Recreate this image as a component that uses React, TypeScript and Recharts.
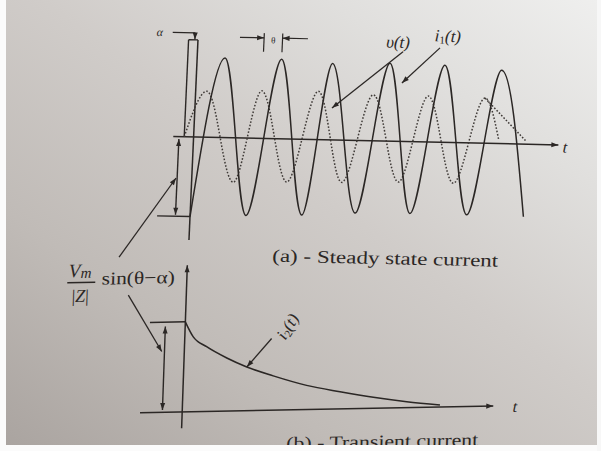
import React from 'react';
import { LineChart, Line, XAxis, YAxis, ReferenceLine, ReferenceDot } from 'recharts';

// Phase angle ωt in degrees; currents and voltage in per-unit of the steady-state peak current.
// Steady-state current i1(t): turning points of the waveform.
const I1_ANGLE = [0, 181, 363, 549, 725, 881, 1071, 1254, 1427, 1611, 1796, 1981, 2165];
const I1_VALUE = [-1.02, 1.02, -0.99, 1.02, -0.97, 0.98, -0.93, 1.0, -0.92, 0.99, -0.92, 0.94, -0.93];

// Source voltage v(t) (dotted), starting at ωt = -α.
const V_ANGLE = [-61, 72, 271, 429, 618, 797, 975, 1155, 1343, 1512, 1700, 1881, 1982];
const V_VALUE = [0, 0.59, -0.57, 0.61, -0.55, 0.62, -0.54, 0.59, -0.52, 0.59, -0.52, 0.58, 0.05];

// Stray dotted stroke leaving the last voltage crest.
const V_TAIL_ANGLE = [1881, 2165];
const V_TAIL_VALUE = [0.58, 0.03];

// Transient current i2(t): decaying offset.
const I2_ANGLE = [0, 55, 144, 278, 410, 584, 803, 1022, 1240, 1458, 1675];
const I2_VALUE = [1.155, 0.96, 0.83, 0.68, 0.56, 0.44, 0.31, 0.22, 0.14, 0.076, 0.026];

const CAPTION_A = '(a) - Steady state current';
const CAPTION_B = '(b) - Transient current';

const rows = (xs: number[], ys: number[]) => xs.map((t, i) => ({ t, y: ys[i] }));

const INK = '#2b2725';
const FONT = "'Liberation Serif', 'DejaVu Serif', serif";

type Heads = 'none' | 'end' | 'both';

function arrowLine(heads: Heads, width = 1.4, size = 7) {
  return (p: any) => {
    const { x1, y1, x2, y2 } = p;
    const head = (xa: number, ya: number, xb: number, yb: number, k: string) => {
      const a = Math.atan2(yb - ya, xb - xa);
      const w = size * 0.36;
      const bx = xb - size * Math.cos(a);
      const by = yb - size * Math.sin(a);
      const pts = `${xb},${yb} ${bx - w * Math.sin(a)},${by + w * Math.cos(a)} ${bx + w * Math.sin(a)},${by - w * Math.cos(a)}`;
      return <polygon key={k} points={pts} fill={INK} />;
    };
    return (
      <g>
        <line x1={x1} y1={y1} x2={x2} y2={y2} stroke={INK} strokeWidth={width} />
        {heads !== 'none' && head(x1, y1, x2, y2, 'e')}
        {heads === 'both' && head(x2, y2, x1, y1, 's')}
      </g>
    );
  };
}

const seg = (xa: number, ya: number, xb: number, yb: number, heads: Heads = 'none', width = 1.4) => (
  <ReferenceLine
    segment={[{ x: xa, y: ya }, { x: xb, y: yb }]}
    ifOverflow="visible"
    shape={arrowLine(heads, width)}
  />
);

const note = (x: number, y: number, draw: (cx: number, cy: number) => React.ReactElement) => (
  <ReferenceDot x={x} y={y} r={1} ifOverflow="visible" shape={(p: any) => draw(p.cx, p.cy)} />
);

const italic = { fontFamily: FONT, fontStyle: 'italic' as const, fill: INK };
const roman = { fontFamily: FONT, fill: INK };

function SteadyState() {
  const thetaLeft = V_ANGLE[3];
  const thetaRight = I1_ANGLE[3];
  return (
    <LineChart width={601} height={300} margin={{ top: 12.2, right: 22.8, bottom: 22.6, left: 101.3 }}>
      <XAxis type="number" dataKey="t" domain={[-600, 2500]} allowDataOverflow hide />
      <YAxis type="number" domain={[-1.8, 1.6]} allowDataOverflow hide />

      {/* axes */}
      {seg(-132, 0, 2371, 0, 'end', 1.5)}
      {seg(0, -1.32, 0, 1.245, 'none', 1.5)}
      {note(2415, -0.025, (x, y) => (
        <text x={x} y={y} textAnchor="middle" dominantBaseline="central" fontSize={16} {...italic}>t</text>
      ))}

      {/* α marker: from the voltage zero to the origin */}
      {seg(V_ANGLE[0], 0, V_ANGLE[0], 1.245)}
      {seg(V_ANGLE[0], 1.245, 0, 1.245)}
      {seg(-166, 1.335, -20, 1.335, 'none', 1.2)}
      {seg(-20, 1.335, -20, 1.25, 'end', 1.2)}
      {note(-250, 1.335, (x, y) => (
        <text x={x} y={y} textAnchor="middle" dominantBaseline="central" fontSize={12} {...italic}>α</text>
      ))}

      {/* θ marker between the voltage and current crests */}
      {seg(thetaLeft, 1.11, thetaLeft, 1.35, 'none', 1.2)}
      {seg(thetaRight, 1.11, thetaRight, 1.35, 'none', 1.2)}
      {seg(272, 1.29, thetaLeft, 1.29, 'end', 1.2)}
      {seg(714, 1.29, thetaRight, 1.29, 'end', 1.2)}
      {note((thetaLeft + thetaRight) / 2, 1.26, (x, y) => (
        <text x={x} y={y} textAnchor="middle" dominantBaseline="central" fontSize={9} {...roman}>θ</text>
      ))}

      <Line data={rows(V_ANGLE, V_VALUE)} dataKey="y" type="monotone" stroke="#3f3a37" strokeWidth={1.5}
        strokeDasharray="1.6 1.8" dot={false} activeDot={false} isAnimationActive={false} />
      <Line data={rows(V_TAIL_ANGLE, V_TAIL_VALUE)} dataKey="y" type="linear" stroke="#3f3a37" strokeWidth={1.5}
        strokeDasharray="1.6 1.8" dot={false} activeDot={false} isAnimationActive={false} />
      <Line data={rows(I1_ANGLE, I1_VALUE)} dataKey="y" type="monotone" stroke={INK} strokeWidth={1.5}
        dot={false} activeDot={false} isAnimationActive={false} />

      {/* series labels */}
      {note(1300, 1.27, (x, y) => (
        <text x={x} y={y} textAnchor="middle" dominantBaseline="central" fontSize={17} {...italic}>υ(t)</text>
      ))}
      {note(1622, 1.365, (x, y) => (
        <text x={x} y={y} textAnchor="middle" dominantBaseline="central" fontSize={17} {...italic}>
          i<tspan fontSize={11} dy={4} fontStyle="normal">1</tspan><tspan dy={-4}>(t)</tspan>
        </text>
      ))}
      {seg(1335, 1.15, 890, 0.41, 'end', 1.3)}
      {seg(1574, 1.21, 1337, 0.75, 'end', 1.3)}

      {/* initial-value bracket */}
      {seg(-214, I1_VALUE[0], 0, I1_VALUE[0])}
      {seg(-95, -0.03, -95, I1_VALUE[0] + 0.02, 'both', 1.4)}
      {seg(-449, -1.56, -102, -0.53, 'end', 1.3)}

      {note(1280, -1.575, (x, y) => (
        <text x={x} y={y} textAnchor="middle" fontSize={18} textLength={226} lengthAdjust="spacingAndGlyphs" {...roman}>
          {CAPTION_A}
        </text>
      ))}
    </LineChart>
  );
}

function Transient() {
  return (
    <LineChart width={601} height={230} margin={{ top: 15.9, right: 34.2, bottom: 11.3, left: 43.74 }}>
      <XAxis type="number" dataKey="t" domain={[-900, 2500]} allowDataOverflow hide />
      <YAxis type="number" domain={[-0.6, 2.0]} allowDataOverflow hide />

      {seg(-274, 0, 2022, 0, 'end', 1.5)}
      {seg(0, -0.21, 0, 1.88, 'end', 1.5)}
      {note(2163, -0.01, (x, y) => (
        <text x={x} y={y} textAnchor="middle" dominantBaseline="central" fontSize={16} {...italic}>t</text>
      ))}

      <Line data={rows(I2_ANGLE, I2_VALUE)} dataKey="y" type="monotone" stroke={INK} strokeWidth={1.5}
        dot={false} activeDot={false} isAnimationActive={false} />

      {/* initial value of the transient */}
      {seg(-230, I2_VALUE[0], 0, I2_VALUE[0])}
      {seg(-129, 0.03, -129, 1.1, 'both', 1.4)}
      {seg(-377, 1.51, -147, 0.78, 'end', 1.3)}
      {note(-777, 1.685, (x, y) => (
        <g>
          <text x={x + 1} y={y - 5.5} fontSize={19} {...italic}>V</text>
          <text x={x + 13} y={y - 4.5} fontSize={15} {...italic}>m</text>
          <line x1={x} y1={y} x2={x + 28} y2={y} stroke={INK} strokeWidth={1.4} />
          <text x={x + 13.5} y={y + 19.5} textAnchor="middle" fontSize={18} {...roman}>
            |<tspan fontStyle="italic">Z</tspan>|
          </text>
          <text x={x + 34.4} y={y + 2.5} fontSize={18} textLength={73} lengthAdjust="spacingAndGlyphs" {...roman}>
            sin(θ−α)
          </text>
        </g>
      ))}

      {/* series label */}
      {seg(565, 0.92, 410, 0.56, 'end', 1.3)}
      {note(666, 1.07, (x, y) => (
        <text x={x} y={y} textAnchor="middle" dominantBaseline="central" fontSize={17}
          transform={`rotate(-60 ${x} ${y})`} {...italic}>
          i<tspan fontSize={11} dy={4} fontStyle="normal">2</tspan><tspan dy={-4}>(t)</tspan>
        </text>
      ))}

      {note(1308, -0.505, (x, y) => (
        <text x={x} y={y} textAnchor="middle" fontSize={18} textLength={192} lengthAdjust="spacingAndGlyphs" {...roman}>
          {CAPTION_B}
        </text>
      ))}
    </LineChart>
  );
}

export default function App() {
  return (
    <div
      style={{
        position: 'fixed',
        left: 0,
        top: 0,
        width: 601,
        height: 451,
        overflow: 'hidden',
        background: 'linear-gradient(35deg, #a9a39f 0%, #c0bbb7 28%, #d0ccc9 55%, #e0dfdd 78%, #efefee 100%)',
      }}
    >
      <div style={{ position: 'absolute', left: 0, top: 0, width: 601, height: 300,
        transform: 'matrix(1, 0.0217, -0.045, 1, 0, 0)', transformOrigin: '193.6px 137px' }}>
        <SteadyState />
      </div>
      <div style={{ position: 'absolute', left: 0, top: 240, width: 601, height: 230,
        transform: 'matrix(1, -0.019, -0.035, 1, 0, 0)', transformOrigin: '182.2px 171.9px' }}>
        <Transient />
      </div>
      <div style={{ position: 'absolute', left: 0, top: 0, width: 6, height: 451, background: '#fbfbfb' }} />
      <div style={{ position: 'absolute', left: 0, top: 445, width: 601, height: 6, background: '#fbfbfb' }} />
      <div style={{ position: 'absolute', left: 597, top: 0, width: 4, height: 451, background: '#f7f7f7' }} />
    </div>
  );
}
